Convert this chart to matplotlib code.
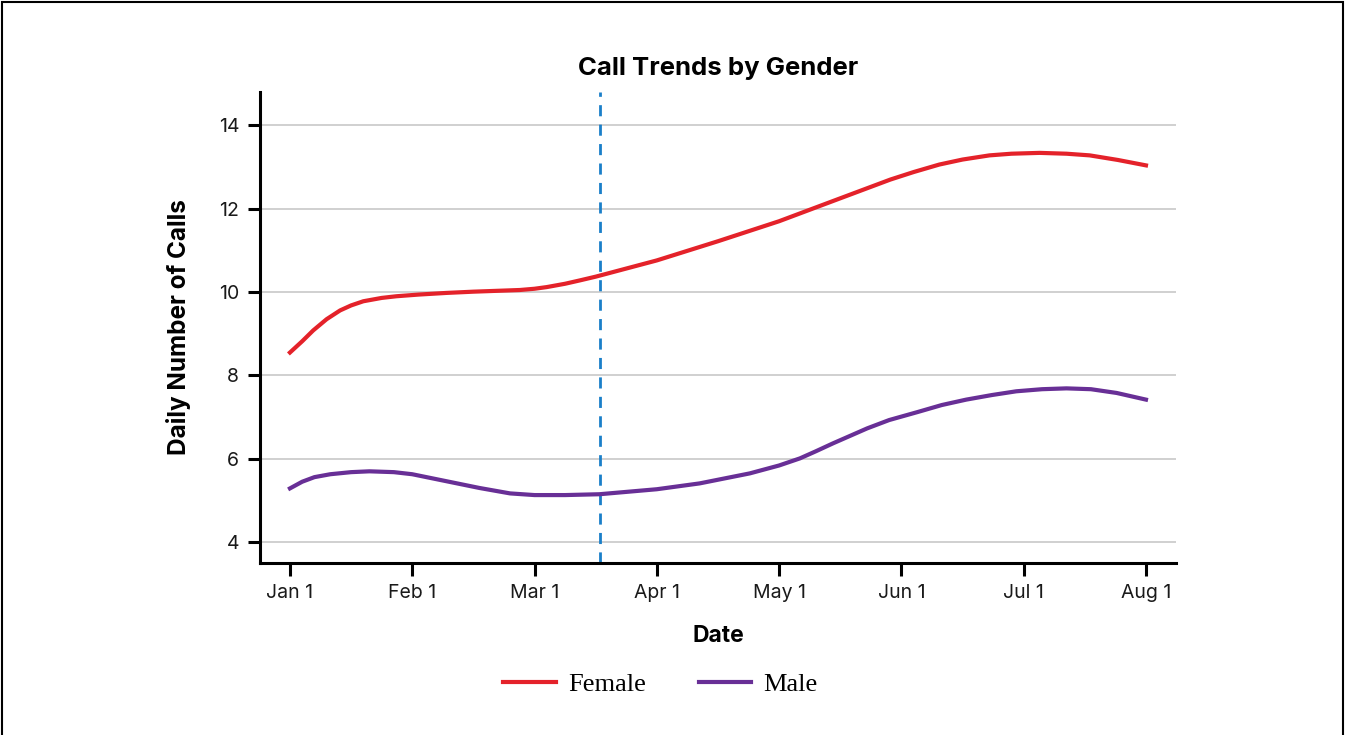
import matplotlib
matplotlib.use("Agg")
from matplotlib import pyplot as plt
from matplotlib.patches import Rectangle
from matplotlib.lines import Line2D

# x in months since Jan 1 (ticks are evenly spaced)
month_labels = ["Jan 1", "Feb 1", "Mar 1", "Apr 1", "May 1", "Jun 1", "Jul 1", "Aug 1"]

female_x = [0.0, 0.1, 0.19, 0.3, 0.41, 0.5, 0.6, 0.75, 0.87, 1.05, 1.28, 1.5, 1.69, 1.88, 2.0, 2.1,
            2.25, 2.37, 2.5, 2.59, 3.0, 3.5, 4.0, 4.5, 4.91, 5.1, 5.31, 5.5, 5.72, 5.9, 6.13, 6.35,
            6.54, 6.77, 7.0]
female_y = [8.55, 8.82, 9.08, 9.35, 9.56, 9.68, 9.78, 9.86, 9.90, 9.94, 9.98, 10.01, 10.03, 10.05,
            10.08, 10.12, 10.20, 10.28, 10.37, 10.44, 10.76, 11.22, 11.70, 12.25, 12.70, 12.88, 13.06,
            13.18, 13.28, 13.32, 13.34, 13.32, 13.28, 13.17, 13.04]

male_x = [0.0, 0.1, 0.2, 0.33, 0.5, 0.65, 0.85, 1.0, 1.25, 1.55, 1.8, 2.0, 2.25, 2.53, 3.0, 3.35,
          3.76, 4.0, 4.17, 4.3, 4.44, 4.72, 4.9, 5.13, 5.33, 5.53, 5.74, 5.94, 6.15, 6.35, 6.55,
          6.76, 7.0]
male_y = [5.29, 5.45, 5.56, 5.63, 5.68, 5.70, 5.68, 5.63, 5.48, 5.30, 5.17, 5.13, 5.13, 5.15, 5.27,
          5.41, 5.65, 5.84, 6.01, 6.18, 6.37, 6.73, 6.93, 7.12, 7.29, 7.42, 7.53, 7.62, 7.67, 7.69,
          7.67, 7.58, 7.42]

cutoff_x = 2.535  # dashed marker, mid-March

red = "#e4222a"
purple = "#682f96"
blue = "#1a7fc9"
sans = ["Inter", "DejaVu Sans"]

fig = plt.figure(figsize=(13.45, 7.35), dpi=100)
ax = fig.add_axes([0.1933, 0.234, 0.681, 0.6408])

ax.plot(female_x, female_y, color=red, lw=3, solid_joinstyle="round")
ax.plot(male_x, male_y, color=purple, lw=3, solid_joinstyle="round")
ax.axvline(cutoff_x, color=blue, lw=2, ls=(0, (4, 3)), zorder=1)

ax.set_xlim(-0.245, 7.245)
ax.set_ylim(3.5, 14.8)
ax.set_xticks(range(len(month_labels)))
ax.set_xticklabels(month_labels)
ax.set_yticks([4, 6, 8, 10, 12, 14])
ax.grid(axis="y", color="#c8c8c8", lw=1.2)
ax.set_axisbelow(True)

for s in ["top", "right"]:
    ax.spines[s].set_visible(False)
for s in ["left", "bottom"]:
    ax.spines[s].set_linewidth(2.2)
ax.tick_params(length=9, width=2.2, labelsize=14, pad=6)
for lab in ax.get_xticklabels() + ax.get_yticklabels():
    lab.set_family(sans)
    lab.set_color("#1a1a1a")

ax.set_title("Call Trends by Gender", fontsize=18.5, fontweight="bold", family=sans, pad=12)
ax.set_xlabel("Date", fontsize=16.5, fontweight="bold", family=sans, labelpad=17)
ax.set_ylabel("Daily Number of Calls", fontsize=17.5, fontweight="bold", family=sans, labelpad=20)

handles = [Line2D([], [], color=red, lw=3), Line2D([], [], color=purple, lw=3)]
fig.legend(handles, ["Female", "Male"], loc="center", bbox_to_anchor=(0.491, 0.069), ncol=2,
           frameon=False, prop={"family": "Liberation Serif", "size": 19}, handlelength=2.0,
           columnspacing=2.0, handletextpad=0.45)

# frame around the figure (bottom edge cut off)
fig.patches.append(Rectangle((0.0015, -0.05), 0.997, 1.047, transform=fig.transFigure,
                             fill=False, edgecolor="black", lw=1.5))

fig.savefig("out.png", dpi=100)
